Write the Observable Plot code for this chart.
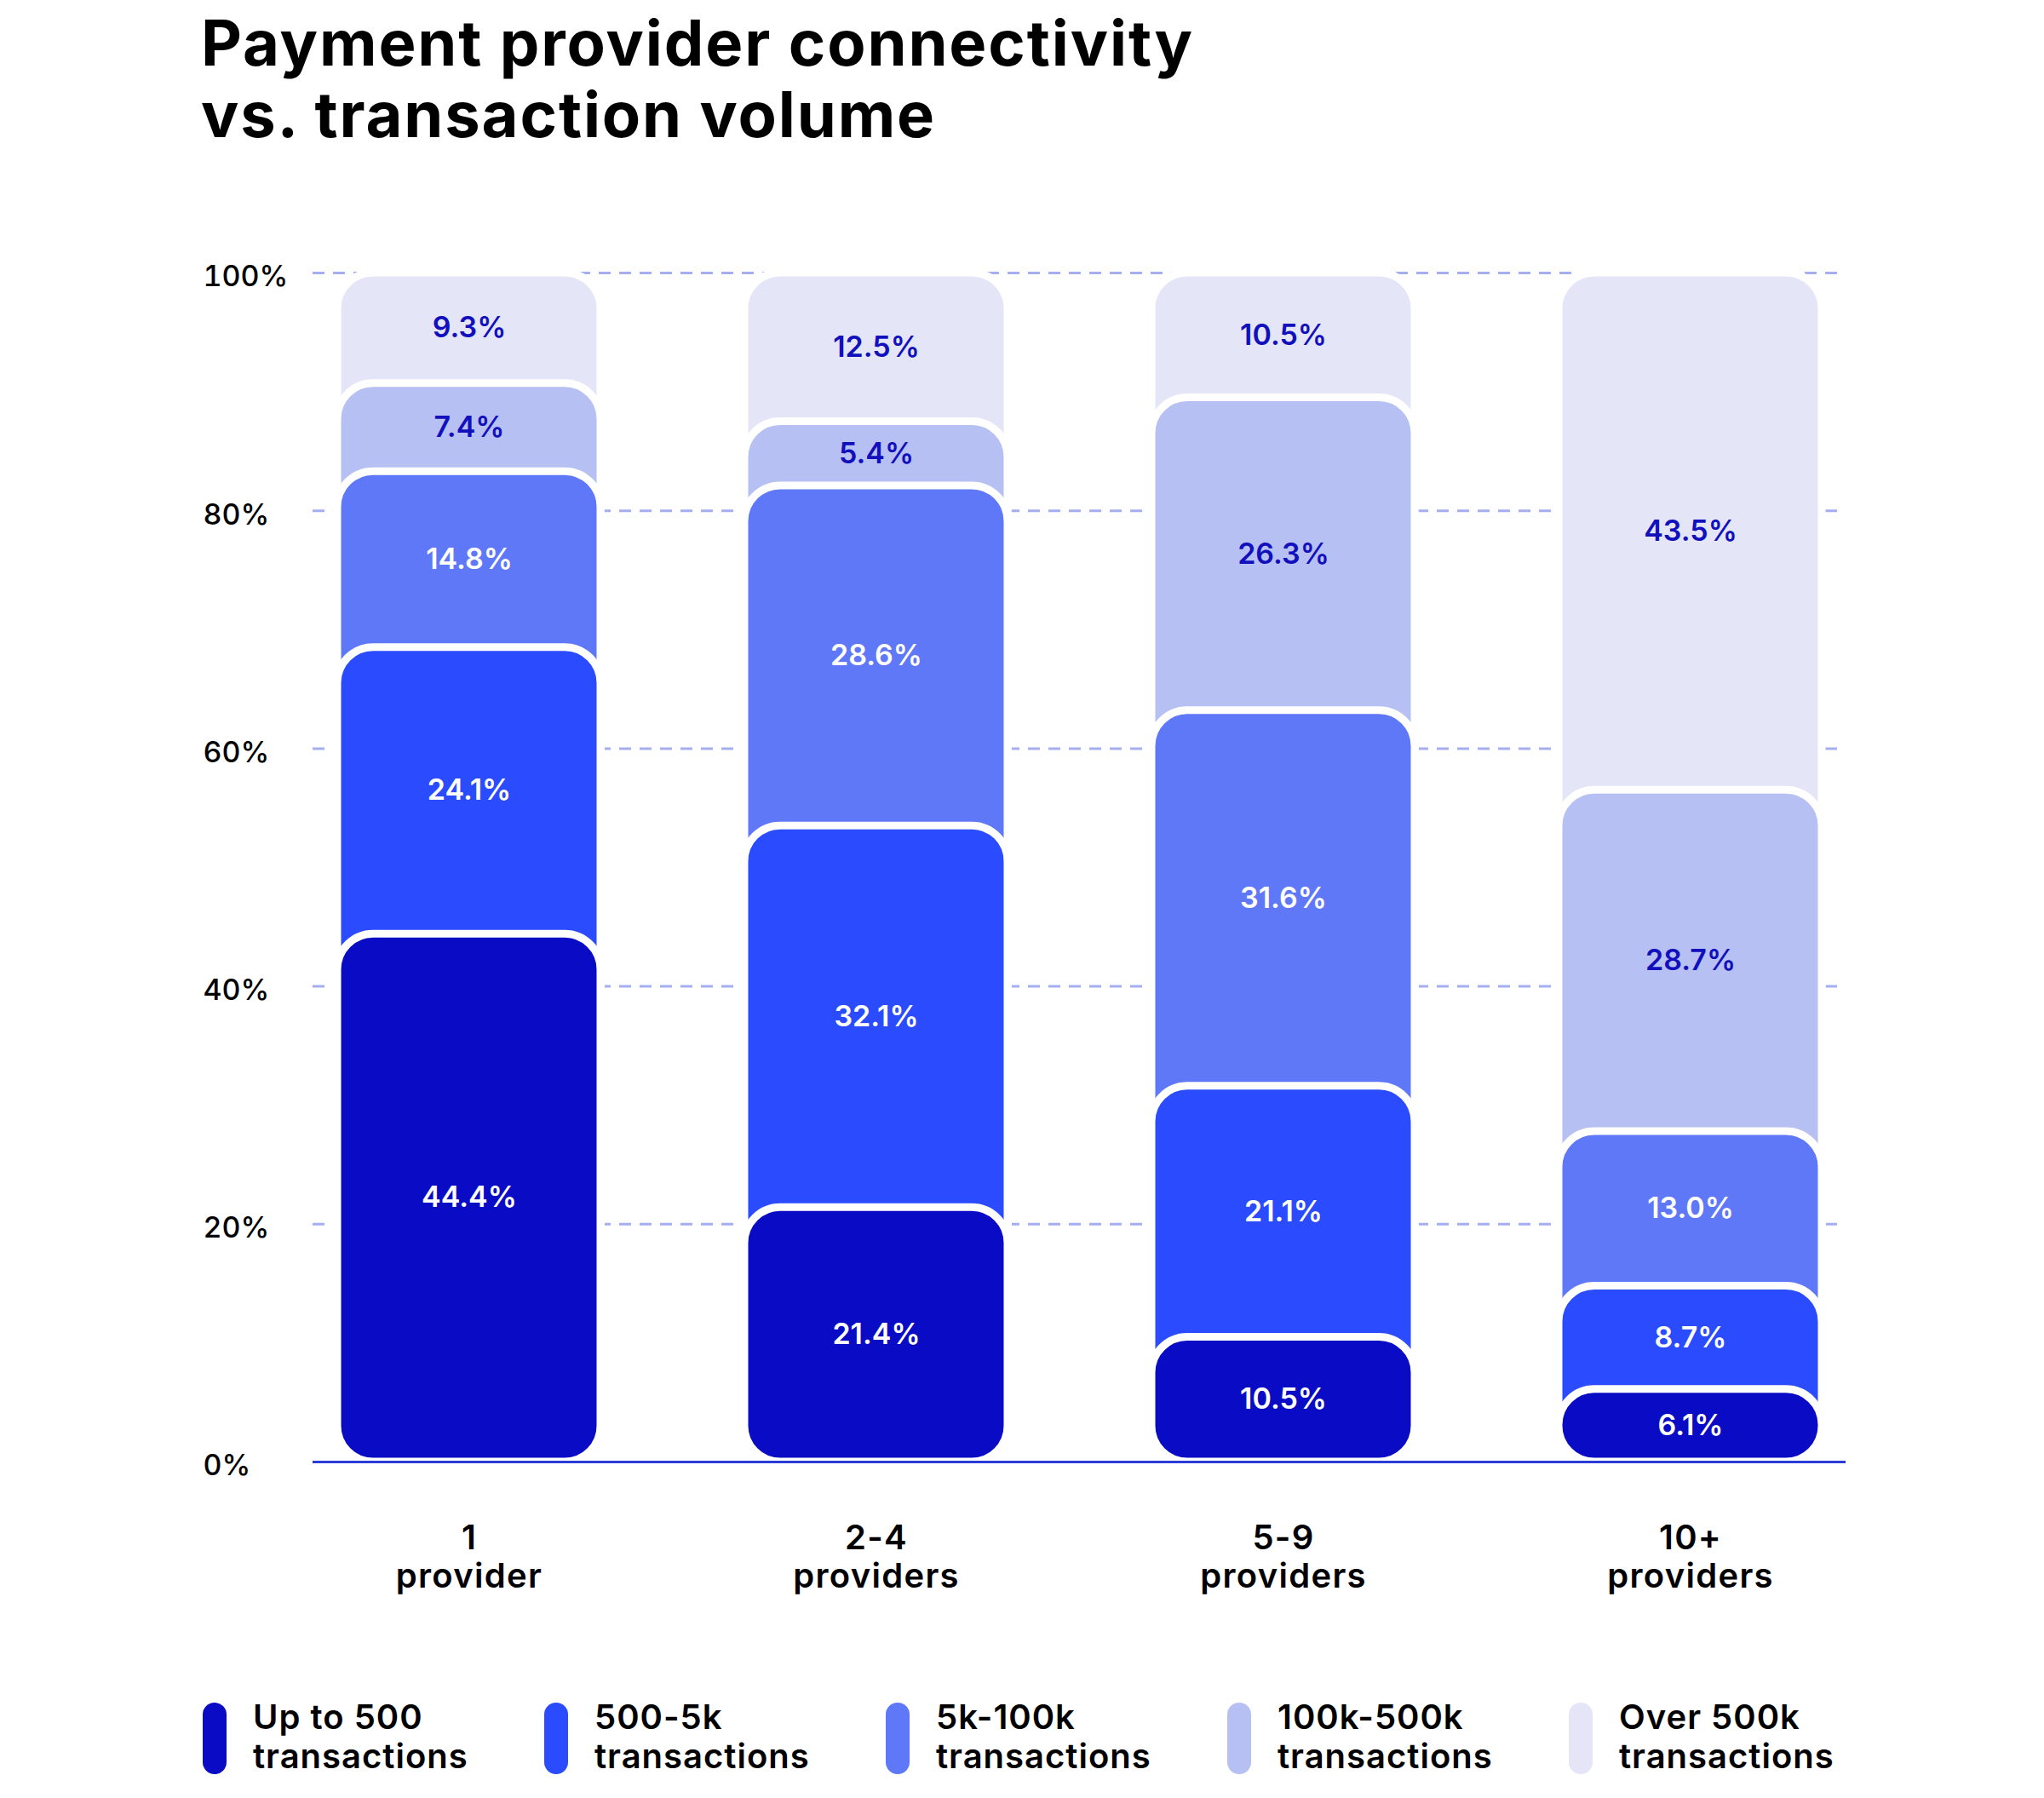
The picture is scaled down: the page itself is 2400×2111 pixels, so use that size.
<!DOCTYPE html>
<html>
<head>
<meta charset="utf-8">
<script src="https://cdn.jsdelivr.net/npm/d3@7"></script>
<script src="https://cdn.jsdelivr.net/npm/@observablehq/plot@0.6"></script>
<style>
  html, body { margin: 0; padding: 0; background: #ffffff; }
  #page { position: relative; width: 2400px; height: 2111px; overflow: hidden; font-family: Inter, "Noto Sans", sans-serif; }
  .tline { position: absolute; left: 236px; height: 84px; font-size: 74px; line-height: 84px; font-weight: 700; letter-spacing: 1.9px; color: #000; white-space: nowrap; }
  #chart { position: absolute; left: 0; top: 200px; }
  #chart g[aria-label="x-axis tick label"] { letter-spacing: 1.3px; }
  #legend { position: absolute; left: 238px; top: 1993px; display: flex; }
  .item { width: 401px; display: flex; align-items: flex-start; }
  .pill { width: 28px; height: 84px; border-radius: 14px; margin-top: 6px; flex: none; }
  .lab { margin-left: 31px; font-size: 40px; line-height: 46px; font-weight: 600; color: #000; letter-spacing: 1px; white-space: nowrap; }
</style>
</head>
<body>
<div id="page">
  <div class="tline" style="top:8px">Payment provider connectivity</div>
  <div class="tline" style="top:92px">vs. transaction volume</div>
  <div id="chart"></div>
  <div id="legend"></div>
</div>
<script>
// ---- data ----
const groups = ["1 provider", "2-4 providers", "5-9 providers", "10+ providers"];
const groupLabels = ["1\nprovider", "2-4\nproviders", "5-9\nproviders", "10+\nproviders"];
const series = ["Up to 500 transactions", "500-5k transactions", "5k-100k transactions", "100k-500k transactions", "Over 500k transactions"];
const legendLabels = ["Up to 500\ntransactions", "500-5k\ntransactions", "5k-100k\ntransactions", "100k-500k\ntransactions", "Over 500k\ntransactions"];
const upTo500 = [44.4, 21.4, 10.5, 6.1];
const from500to5k = [24.1, 32.1, 21.1, 8.7];
const from5kto100k = [14.8, 28.6, 31.6, 13.0];
const from100kto500k = [7.4, 5.4, 26.3, 28.7];
const over500k = [9.3, 12.5, 10.5, 43.5];
const yTicks = [0, 20, 40, 60, 80, 100];
const colors = ["#0a0bc4", "#2a4bfe", "#5f78f8", "#b7c0f3", "#e4e6f8"];

// ---- build stacked table ----
const seriesValues = [upTo500, from500to5k, from5kto100k, from100kto500k, over500k];
const rows = [];
groups.forEach((g, gi) => {
  let lo = 0;
  seriesValues.forEach((vals, si) => {
    const v = vals[gi];
    rows.push({group: g, series: series[si], si, value: v, lo, hi: lo + v});
    lo += v;
  });
});
// draw top series first so lower segments sit in front
const drawRows = rows.slice().sort((a, b) => b.si - a.si);

const plot = Plot.plot({
  width: 2400,
  height: 1720,
  marginTop: 120,
  marginBottom: 204,
  marginLeft: 367,
  marginRight: 233,
  style: {fontFamily: "Inter, 'Noto Sans', sans-serif", background: "transparent", overflow: "visible"},
  x: {domain: groups, paddingInner: 0.354, paddingOuter: 0.0575, label: null},
  y: {domain: [0, 100], label: null},
  color: {domain: series, range: colors},
  marks: [
    Plot.gridY(yTicks.filter(d => d > 0), {stroke: "#a5aef0", strokeOpacity: 1, strokeWidth: 3, strokeDasharray: "14,10"}),
    Plot.axisY({ticks: yTicks, tickSize: 0, tickPadding: 0, textAnchor: "start", dx: -129, dy: 5,
      tickFormat: d => d + "%", fontSize: 34, fontWeight: 500, fill: "#000", label: null}),
    Plot.barY(drawRows, {x: "group", y1: 0, y2: "hi", fill: "series", stroke: "white", strokeWidth: 9, rx: 42}),
    Plot.ruleY([0], {stroke: "#2b3bd8", strokeWidth: 3}),
    Plot.text(rows.filter(d => d.si < 3), {x: "group", y: d => (d.lo + d.hi) / 2, text: d => d.value.toFixed(1) + "%",
      fill: "white", fontSize: 34, fontWeight: 600}),
    Plot.text(rows.filter(d => d.si >= 3), {x: "group", y: d => (d.lo + d.hi) / 2, text: d => d.value.toFixed(1) + "%",
      fill: "#1210bd", fontSize: 34, fontWeight: 600}),
    Plot.axisX({tickSize: 0, tickPadding: 70, tickFormat: d => groupLabels[groups.indexOf(d)],
      fontSize: 40, fontWeight: 600, lineHeight: 1.13, fill: "#000", label: null})
  ]
});
document.getElementById("chart").appendChild(plot);

// ---- legend ----
const legend = document.getElementById("legend");
series.forEach((s, i) => {
  const item = document.createElement("div");
  item.className = "item";
  const pill = document.createElement("div");
  pill.className = "pill";
  pill.style.background = colors[i];
  const lab = document.createElement("div");
  lab.className = "lab";
  lab.innerHTML = legendLabels[i].replace("\n", "<br>");
  item.appendChild(pill);
  item.appendChild(lab);
  legend.appendChild(item);
});
</script>
</body>
</html>
